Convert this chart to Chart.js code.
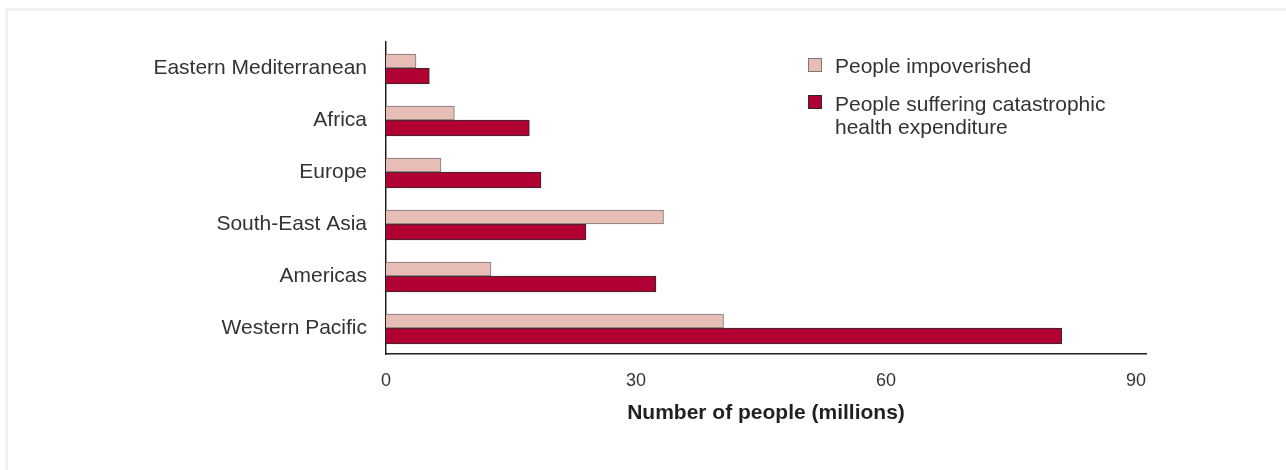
<!DOCTYPE html>
<html>
<head>
<meta charset="utf-8">
<script src="https://cdn.jsdelivr.net/npm/chart.js@4.4.1/dist/chart.umd.min.js"></script>
<style>
  html, body { margin: 0; padding: 0; background: #fff; }
  body { width: 1286px; height: 470px; overflow: hidden; position: relative; font-family: "Liberation Sans", Arial, sans-serif; }
  .frame { position: absolute; left: 5px; top: 8px; right: 0; bottom: 0; border-left: 3px solid #f1f1f1; border-top: 3px solid #f1f1f1; background: #fff; }
  #chart { position: absolute; left: 0; top: 0; }
  .key { position: absolute; color: #333; font-size: 21px; line-height: 23px; }
  .box { position: absolute; width: 12px; height: 12px; border: 1px solid #444; }
</style>
</head>
<body>
<div class="frame"></div>
<canvas id="chart" width="1286" height="470"></canvas>

<div class="box" style="left:808px; top:58px; background:#e8bdb5; border-color:#777;"></div>
<div class="key" style="left:835px; top:54px;">People impoverished</div>
<div class="box" style="left:808px; top:95px; background:#b00034; border-color:#2b2b2b;"></div>
<div class="key" style="left:835px; top:92px;">People suffering catastrophic<br>health expenditure</div>

<script>
const regions = ["Eastern Mediterranean", "Africa", "Europe", "South-East Asia", "Americas", "Western Pacific"];
const impoverished = [3.6, 8.2, 6.6, 33.3, 12.6, 40.5];
const catastrophic = [5.2, 17.2, 18.6, 24.0, 32.4, 81.1];
const xTicks = [0, 30, 60, 90];

const FONT = "'Liberation Sans', Arial, sans-serif";
const INK = "#333";
const AXIS = "#231f20";

function el(id) {
  return document.getElementById(id);
}

new Chart(el("chart"), {
  type: "bar",
  data: {
    labels: regions,
    datasets: [
      {
        label: "People impoverished",
        data: impoverished,
        backgroundColor: "#e8bdb5",
        borderColor: "#777",
        borderWidth: 1,
        borderSkipped: "start",
        barThickness: 14,
      },
      {
        label: "People suffering catastrophic health expenditure",
        data: catastrophic,
        backgroundColor: "#b00034",
        borderColor: "#2b2b2b",
        borderWidth: 1,
        borderSkipped: "start",
        barThickness: 16,
      },
    ],
  },
  options: {
    indexAxis: "y",
    responsive: false,
    animation: false,
    layout: { padding: { left: 0, top: 42, right: 140, bottom: 36 } },
    plugins: { legend: { display: false }, tooltip: { enabled: false } },
    scales: {
      y: {
        grid: { display: false },
        border: { display: true, color: AXIS, width: 1.5 },
        ticks: { color: INK, font: { family: FONT, size: 21 }, padding: 11 },
        afterFit: (s) => { s.width = 386; },
      },
      x: {
        min: 0,
        max: 91.2,
        grid: { display: false },
        border: { display: true, color: AXIS, width: 1.5 },
        ticks: { color: INK, font: { family: FONT, size: 18 }, padding: 8, stepSize: 30 },
        afterBuildTicks: (s) => {
          s.ticks = xTicks.map((v) => ({ value: v }));
        },
        title: {
          display: true,
          text: "Number of people (millions)",
          color: AXIS,
          font: { family: FONT, size: 21, weight: "bold" },
          padding: { top: 0, bottom: 8 },
        },
        afterFit: (s) => { s.height = 80; },
      },
    },
  },
});
</script>
</body>
</html>
